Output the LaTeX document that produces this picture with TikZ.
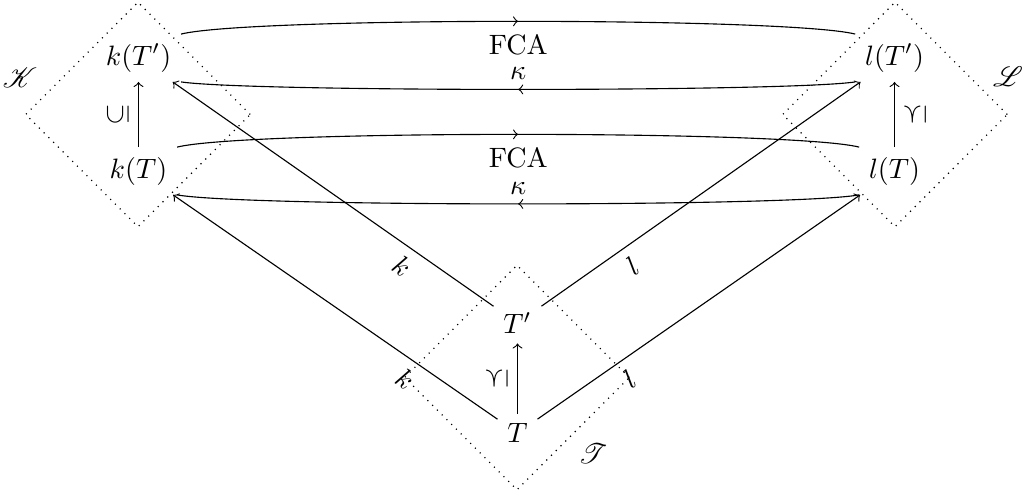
\documentclass[tikz,border=0pt]{standalone}
\usepackage{graphicx}
\usepackage{mathrsfs}
\usetikzlibrary{shapes.geometric,decorations.markings}
\tikzset{
  obj/.style={inner sep=3.333pt},
  region/.style={draw, dotted, diamond, aspect=1, minimum width=80.3pt, minimum height=80.3pt, inner sep=0pt},
  midarr/.style={postaction={decorate}, decoration={markings, mark=at position 0.5 with {\arrow{>}}}},
  map/.style={->},
  lab/.style={inner sep=3.333pt},
  fcalab/.style={inner sep=3.333pt, below, yshift=-1pt}
}
\newcommand{\incl}{\rotatebox[origin=c]{90}{$\subseteq$}}
\newcommand{\sub}{\rotatebox[origin=c]{90}{$\preceq$}}
\begin{document}
\begin{tikzpicture}[x=0.357pt, y=-0.357pt]
\useasboundingbox (0,0) rectangle (1027,498);
% regions
\node[region] (K) at (138,114.5) {};
\node[region] (L) at (895,114.5) {};
\node[region] (TT) at (517,377.5) {};
\node (Klab) at (20,78) {$\mathscr{K}$};
\node (Llab) at (1008,77) {$\mathscr{L}$};
\node (Tlab) at (593,454) {$\mathscr{T}$};
% objects
\node[obj] (kTp) at (138.5,58) {$k(T')$};
\node[obj] (kT) at (138.5,171) {$k(T)$};
\node[obj] (lTp) at (894.5,58) {$l(T')$};
\node[obj] (lT) at (894.5,171) {$l(T)$};
\node[obj] (Tp) at (517.5,323) {$T'$};
\node[obj] (T) at (517.5,433) {$T$};
% vertical maps
\draw[map] (kT) -- node[lab, left] {\incl} (kTp);
\draw[map] (lT) -- node[lab, right] {\sub} (lTp);
\draw[map] (T) -- node[lab, left] {\sub} (Tp);
% horizontal curves
\draw[midarr] (kTp.north east) .. controls +(68,-17) and +(-68,-17) .. (lTp.north west) node[pos=0.5, fcalab] {FCA};
\draw[midarr] (lTp.south west) .. controls +(-68,10) and +(68,10) .. (kTp.south east) node[pos=0.5, above, lab] {$\kappa$};
\draw[midarr] (kT.north east) .. controls +(68,-17) and +(-68,-17) .. (lT.north west) node[pos=0.5, fcalab] {FCA};
\draw[midarr] (lT.south west) .. controls +(-68,12) and +(68,12) .. (kT.south east) node[pos=0.5, above, lab] {$\kappa$};
% diagonal maps
\draw[map] (Tp) -- node[pos=0.25, below, sloped, lab] {$k$} (kTp);
\draw[map] (T) -- node[pos=0.25, below, sloped, lab] {$k$} (kT);
\draw[map] (Tp) -- node[pos=0.25, below, sloped, lab] {$l$} (lTp);
\draw[map] (T) -- node[pos=0.25, below, sloped, lab] {$l$} (lT);
\end{tikzpicture}
\end{document}
